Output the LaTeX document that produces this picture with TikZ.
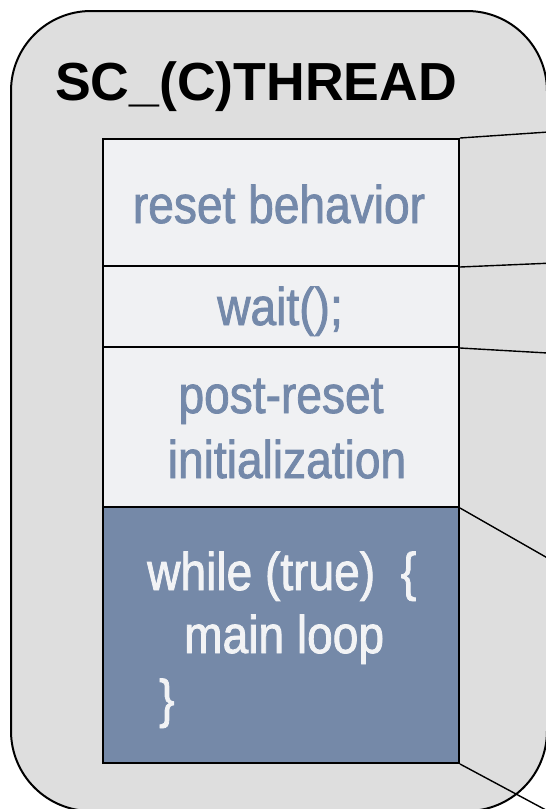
\documentclass[tikz,border=0pt]{standalone}
\usepackage{fontspec}
\setmainfont{Liberation Sans}
\newfontfamily\narrowfont{Liberation Sans}[FakeStretch=0.87,FakeBold=1.5]
\definecolor{shellgray}{HTML}{DEDEDE}
\definecolor{stagefill}{HTML}{F0F1F3}
\definecolor{loopfill}{HTML}{7589A8}
\definecolor{stagetext}{HTML}{7489AA}
\definecolor{looptext}{HTML}{F2F3F5}
\begin{document}
\begin{tikzpicture}[x=1pt,y=-1pt,
  shell/.style={draw=black,line width=2pt,fill=shellgray,rounded corners=80pt},
  stage/.style={draw=black,line width=2pt,fill=stagefill,rectangle,inner sep=0pt,minimum width=356pt},
  loopstage/.style={stage,fill=loopfill},
  lbl/.style={inner sep=0pt,text=stagetext,font=\narrowfont\fontsize{53}{65}\selectfont},
  looplbl/.style={lbl,text=looptext},
  title/.style={inner sep=0pt,font=\bfseries\fontsize{53.6}{60}\selectfont},
  link/.style={draw=black,line width=1.4pt}]
\useasboundingbox (0,0) rectangle (546,809);
\clip (0,0) rectangle (546,809);

% outer process shell
\draw[shell] (11,11) rectangle (547,811);
\node[title,anchor=base west] (hdr) at (55,100) {SC\_(C)THREAD};

% stacked stages of the thread body
\node[stage,minimum height=127pt] (reset) at (281,202.5) {};
\node[stage,minimum height=81pt] (waitbox) at (281,306.5) {};
\node[stage,minimum height=160pt] (init) at (281,427) {};
\node[loopstage,minimum height=256pt] (loop) at (281,635) {};

% stage labels
\node[lbl,anchor=base] (t1) at (279,223) {reset behavior};
\node[lbl,anchor=base] (t2) at (280,325) {wait();};
\node[lbl,anchor=base] (t3) at (281,413) {post-reset};
\node[lbl,anchor=base] (t4) at (287,478) {initialization};
\node[looplbl,anchor=base west] (t5) at (147,590) {while (true)\ \ \{};
\node[looplbl,anchor=base west] (t6) at (184,653) {main loop};
\node[looplbl,anchor=base west] (t7) at (159,717) {\}};

% callout leaders running off to the right
\coordinate (c1) at (600,128.5);
\coordinate (c2) at (600,261);
\coordinate (c3) at (600,356);
\coordinate (c4) at (600,588);
\coordinate (c5) at (600,839);
\draw[link] (reset.north east) -- (c1);
\draw[link] (reset.south east) -- (c2);
\draw[link] (waitbox.south east) -- (c3);
\draw[link] (init.south east) -- (c4);
\draw[link] (loop.south east) -- (c5);
\end{tikzpicture}
\end{document}
